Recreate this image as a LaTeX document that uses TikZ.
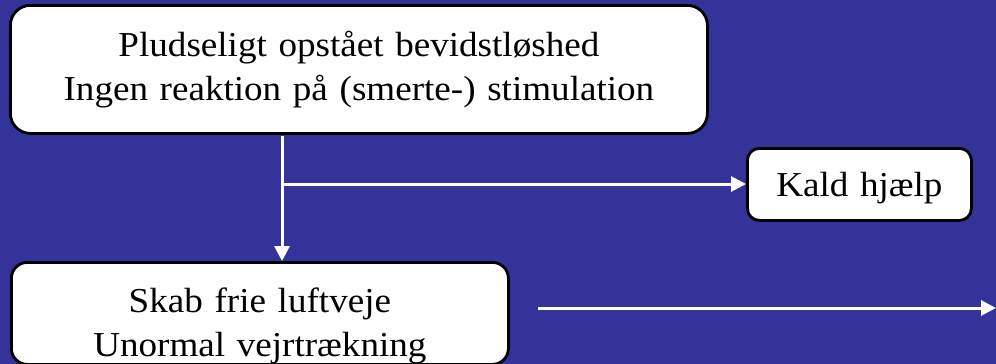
\documentclass[tikz,border=0pt]{standalone}
\usepackage{fontspec}
\setmainfont{Liberation Serif}[FakeStretch=1.06, WordSpace=0.8]
\usetikzlibrary{arrows.meta}
\definecolor{bgblue}{HTML}{333399}
\begin{document}
\begin{tikzpicture}[x=1pt,y=-1pt,
  boxstyle/.style={draw=black, line width=2.8pt, fill=white, rounded corners=#1,
    inner sep=0pt, align=center, font=\fontsize{35}{44}\selectfont},
  boxstyle/.default=15pt,
  flow/.style={draw=white, line width=3pt, -{Triangle[length=15pt,width=15pt]}}]
\fill[bgblue] (0,0) rectangle (996,364);
\useasboundingbox (0,0) rectangle (996,364);
\node[boxstyle=20pt, text width=697pt, text height=51pt, text depth=77pt, anchor=north west] (top) at (9,4)
  {Pludseligt opstået bevidstløshed\\Ingen reaktion på (smerte-) stimulation};
\node[boxstyle=12pt, text width=224pt, text height=48pt, text depth=24pt, anchor=north west] (kald) at (746,147)
  {Kald hjælp};
\node[boxstyle=16pt, text width=497pt, text height=50pt, text depth=52pt, anchor=north west] (bot) at (10,261)
  {Skab frie luftveje\\Unormal vejrtrækning};
\coordinate (j) at (282,184);
\coordinate (s) at (538,308);
\coordinate (e) at (996,308);
\draw[flow] ([yshift=-1.4pt]top.south -| j) -- (bot.north -| j);
\draw[flow] (j) -- (j -| kald.west);
\draw[flow] (s) -- (e);
\end{tikzpicture}
\end{document}
